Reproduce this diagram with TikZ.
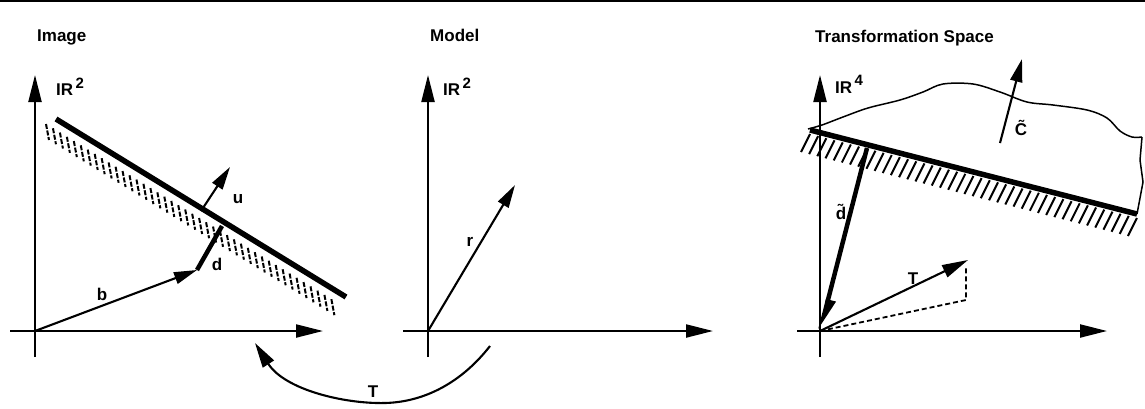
\documentclass[tikz,border=0pt]{standalone}
\usepackage{fontspec}
\setmainfont{Liberation Sans}
\usetikzlibrary{arrows.meta,calc}
\begin{document}
\begin{tikzpicture}[x=1pt,y=-1pt,
  lbl/.style={font=\bfseries\fontsize{17}{17}\selectfont, inner sep=0pt},
  axisline/.style={line width=2.2pt, -{Triangle[length=27pt,width=13pt]}},
  vec/.style={line width=2.1pt, -{Triangle[length=23pt,width=12pt]}},
  heavy/.style={line width=5.5pt},
  hatchA/.style={line width=2pt, dash pattern=on 5pt off 1.6pt},
  hatchB/.style={line width=2pt},
  outline/.style={line width=1.5pt}
]
\useasboundingbox (0,0) rectangle (1145,408);
\fill[white] (0,0) rectangle (1145,408);
\draw[line width=2.5pt] (0,1) -- (1145,1);

% ---------------- Image panel ----------------
\node[lbl, anchor=base west] (timage) at (37,41) {Image};
\coordinate (O1) at (35,331);
\coordinate (y1s) at (35,357); \coordinate (y1e) at (35,75);
\coordinate (x1s) at (10,331); \coordinate (x1e) at (323,331);
\draw[axisline] (y1s) -- (y1e);
\draw[axisline] (x1s) -- (x1e);
\node[lbl, anchor=base west] (ir1) at (56,95) {IR\hspace{2.5pt}\raisebox{7pt}{\fontsize{15}{15}\selectfont 2}};
\coordinate (L1a) at (56,119); \coordinate (L1b) at (346,297);
\foreach \t in {0,0.024,...,1.0}
  \draw[hatchA] ($(L1a)!\t!(L1b)+(-10,5)$) -- ++(3,16);
\draw[heavy] (L1a) -- (L1b);
\coordinate (bt) at (197,270);
\coordinate (dt) at (222,226);
\coordinate (us) at (201,211); \coordinate (ue) at (230,167);
\draw[vec] (O1) -- (bt);
\draw[line width=4.5pt] (bt) -- (dt);
\draw[vec] (us) -- (ue);
\node[lbl] (lu) at (238,199) {u};
\node[lbl] (ld) at (217,264) {d};
\node[lbl] (lb) at (102,294) {b};

% ---------------- Model panel ----------------
\node[lbl, anchor=base west] (tmodel) at (430,41) {Model};
\coordinate (O2) at (428,331);
\coordinate (y2s) at (428,357); \coordinate (y2e) at (428,75);
\coordinate (x2s) at (403,331); \coordinate (x2e) at (713,331);
\draw[axisline] (y2s) -- (y2e);
\draw[axisline] (x2s) -- (x2e);
\node[lbl, anchor=base west] (ir2) at (443,95) {IR\hspace{2.5pt}\raisebox{7pt}{\fontsize{15}{15}\selectfont 2}};
\coordinate (re) at (515,185);
\draw[vec] (O2) -- (re);
\node[lbl] (lr) at (470,242) {r};

% ---------------- T curved arrow ----------------
\coordinate (Ts) at (490,346);
\coordinate (Tm) at (385,403);
\coordinate (Te) at (255,343);
\draw[line width=2.1pt, -{Triangle[length=25pt,width=13pt]}]
  (Ts) .. controls (462,382) and (425,402) .. (Tm)
       .. controls (345,404) and (285,390) .. (Te);
\node[lbl] (lT) at (373,392) {T};

% ---------------- Transformation panel ----------------
\node[lbl, anchor=base west] (ttrans) at (815,42) {Transformation Space};
\coordinate (O3) at (820,331);
\coordinate (y3s) at (820,357); \coordinate (y3e) at (820,75);
\coordinate (x3s) at (797,331); \coordinate (x3e) at (1107,331);
\draw[axisline] (y3s) -- (y3e);
\draw[axisline] (x3s) -- (x3e);
\node[lbl, anchor=base west] (ir3) at (835,93) {IR\hspace{2.5pt}\raisebox{8pt}{\fontsize{15}{15}\selectfont 4}};

\coordinate (L3a) at (810,130); \coordinate (L3b) at (1137,214);
\foreach \t in {0,0.025,...,1.0}
  \draw[hatchB] ($(L3a)!\t!(L3b)+(0,4)$) -- ++(-9,18);
\draw[outline] plot[smooth, tension=0.55] coordinates {(808,129) (822,125) (843,117) (868,108) (900,100) (923,92) (943,84) (973,84) (1000,92) (1027,102) (1053,105) (1087,110) (1107,118) (1120,131) (1132,137) (1142,137)};
\draw[outline] (1142,137) -- (1140,160) -- (1143,182) -- (L3b);
\draw[heavy] (L3a) -- (L3b);

\coordinate (cs) at (1000,143); \coordinate (ce) at (1022,59);
\draw[vec] (cs) -- (ce);
\node[lbl] (lc) at (1021,128) {\~{C}};

\coordinate (dts) at (867,148);
\draw[line width=4.5pt, -{Triangle[length=25pt,width=15pt,left]}] (dts) -- (O3);
\node[lbl] (ldt) at (841,212) {\~{d}};

\coordinate (Tv) at (968,260);
\coordinate (Tc) at (966,300);
\coordinate (Tu) at (966,266);
\draw[line width=1.8pt, dash pattern=on 5pt off 3pt] (O3) -- (Tc) -- (Tu);
\draw[line width=2.1pt, -{Triangle[length=26pt,width=13pt]}] (O3) -- (Tv);
\node[lbl] (lT2) at (913,279) {T};
\end{tikzpicture}
\end{document}
